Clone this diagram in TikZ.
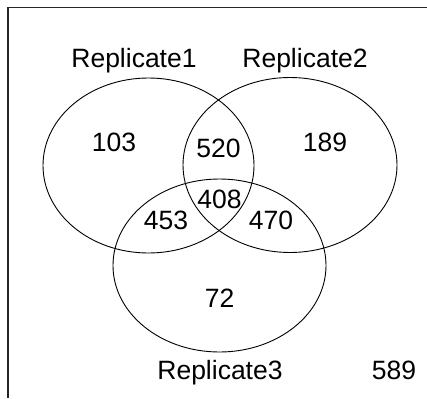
\documentclass[tikz,border=0pt]{standalone}
\usepackage{fontspec}
\setmainfont{Liberation Sans}
\begin{document}
\begin{tikzpicture}[x=1pt,y=-1pt,
  lbl/.style={anchor=base,inner sep=0pt,font=\fontsize{26.5}{31}\selectfont},
  setline/.style={draw=black,line width=0.9pt}]
\useasboundingbox (0,0) rectangle (427,398);
% frame: top and left edges only
\coordinate (ftl) at (8,7.5);
\coordinate (ftr) at (427,7.5);
\coordinate (fbl) at (8,398);
\draw[line width=1.2pt,black!85] (ftr) -- (ftl) -- (fbl);
% the three sets
\coordinate (c1) at (148.5,165.5);
\coordinate (c2) at (290,165);
\coordinate (c3) at (219.5,265.5);
\draw[setline] (c1) ellipse [x radius=105.5pt, y radius=87.5pt];
\draw[setline] (c2) ellipse [x radius=107pt, y radius=87.5pt];
\draw[setline] (c3) ellipse [x radius=106.5pt, y radius=86.5pt];
% set names
\node[lbl] (r1) at (134,68) {Replicate1};
\node[lbl] (r2) at (305,68) {Replicate2};
\node[lbl] (r3) at (220,379) {Replicate3};
% counts
\node[lbl] (n103) at (114,151.5) {103};
\node[lbl] (n189) at (325,151.5) {189};
\node[lbl] (n520) at (218.5,157) {520};
\node[lbl] (n408) at (219.5,208) {408};
\node[lbl] (n453) at (166,229) {453};
\node[lbl] (n470) at (271,229) {470};
\node[lbl] (n72) at (219.5,307) {72};
\node[lbl] (n589) at (394,379) {589};
\end{tikzpicture}
\end{document}
